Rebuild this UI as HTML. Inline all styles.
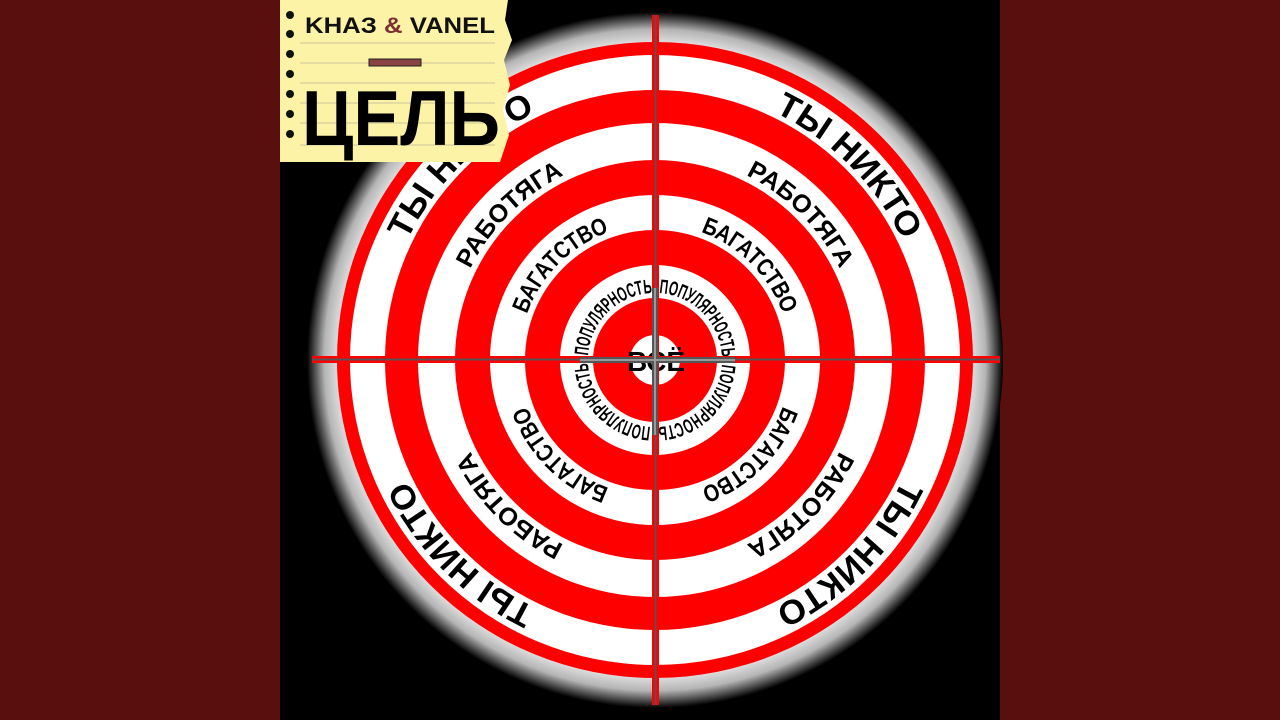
<!DOCTYPE html>
<html><head><meta charset="utf-8"><style>html,body{margin:0;padding:0;background:#5a0f0f;}svg{display:block}</style></head><body>
<svg width="1280" height="720" viewBox="0 0 1280 720" xmlns="http://www.w3.org/2000/svg">
<defs>
<radialGradient id="glow" cx="655" cy="360" r="348" gradientUnits="userSpaceOnUse">
<stop offset="0.88" stop-color="#ffffff"/><stop offset="0.95" stop-color="#b5b5b5"/><stop offset="1" stop-color="#000"/>
</radialGradient>
<path id="c1" d="M655,85 A275,275 0 1,1 654.99,85"/>
<path id="c2" d="M655,154 A206,206 0 1,1 654.99,154"/>
<path id="c3" d="M655,224 A136,136 0 1,1 654.99,224"/>
<path id="c4" d="M655,293 A67,67 0 1,1 654.99,293"/>
</defs>
<rect width="1280" height="720" fill="#5a0f0f"/>
<rect x="280" y="0" width="720" height="720" fill="#000"/>
<circle cx="655" cy="360" r="348" fill="url(#glow)"/>
<circle cx="655" cy="360" r="318" fill="#f00"/>
<circle cx="655" cy="360" r="305" fill="#fff"/>
<circle cx="655" cy="360" r="270" fill="#f00"/>
<circle cx="655" cy="360" r="237" fill="#fff"/>
<circle cx="655" cy="360" r="200" fill="#f00"/>
<circle cx="655" cy="360" r="165" fill="#fff"/>
<circle cx="655" cy="360" r="130" fill="#f00"/>
<circle cx="655" cy="360" r="95" fill="#fff"/>
<circle cx="655" cy="360" r="62" fill="#f00"/>
<circle cx="655" cy="360" r="25" fill="#fff"/>
<g font-family="Liberation Sans, sans-serif" font-weight="bold" fill="#000" text-anchor="middle">
<g font-size="34">
<text><textPath href="#c1" startOffset="12.5%" textLength="185" lengthAdjust="spacingAndGlyphs">ТЫ НИКТО</textPath></text>
<text><textPath href="#c1" startOffset="37.5%" textLength="185" lengthAdjust="spacingAndGlyphs">ТЫ НИКТО</textPath></text>
<text><textPath href="#c1" startOffset="62.5%" textLength="185" lengthAdjust="spacingAndGlyphs">ТЫ НИКТО</textPath></text>
<text><textPath href="#c1" startOffset="87.5%" textLength="185" lengthAdjust="spacingAndGlyphs">ТЫ НИКТО</textPath></text>
</g>
<g font-size="25">
<text><textPath href="#c2" startOffset="12.5%" textLength="135" lengthAdjust="spacingAndGlyphs">РАБОТЯГА</textPath></text>
<text><textPath href="#c2" startOffset="37.5%" textLength="135" lengthAdjust="spacingAndGlyphs">РАБОТЯГА</textPath></text>
<text><textPath href="#c2" startOffset="62.5%" textLength="135" lengthAdjust="spacingAndGlyphs">РАБОТЯГА</textPath></text>
<text><textPath href="#c2" startOffset="87.5%" textLength="135" lengthAdjust="spacingAndGlyphs">РАБОТЯГА</textPath></text>
</g>
<g font-size="24">
<text><textPath href="#c3" startOffset="12.5%" textLength="120" lengthAdjust="spacingAndGlyphs">БАГАТСТВО</textPath></text>
<text><textPath href="#c3" startOffset="37.5%" textLength="120" lengthAdjust="spacingAndGlyphs">БАГАТСТВО</textPath></text>
<text><textPath href="#c3" startOffset="62.5%" textLength="120" lengthAdjust="spacingAndGlyphs">БАГАТСТВО</textPath></text>
<text><textPath href="#c3" startOffset="87.5%" textLength="120" lengthAdjust="spacingAndGlyphs">БАГАТСТВО</textPath></text>
</g>
<g font-size="20" text-anchor="start">
<text><textPath href="#c4" startOffset="1%" textLength="98" lengthAdjust="spacingAndGlyphs">ПОПУЛЯРНОСТЬ</textPath></text>
<text><textPath href="#c4" startOffset="26%" textLength="98" lengthAdjust="spacingAndGlyphs">ПОПУЛЯРНОСТЬ</textPath></text>
<text><textPath href="#c4" startOffset="51%" textLength="98" lengthAdjust="spacingAndGlyphs">ПОПУЛЯРНОСТЬ</textPath></text>
<text><textPath href="#c4" startOffset="76%" textLength="98" lengthAdjust="spacingAndGlyphs">ПОПУЛЯРНОСТЬ</textPath></text>
</g>
<text x="656" y="371" font-size="28">ВСЁ</text>
</g>
<rect x="652" y="15" width="7" height="690" fill="#f00"/>
<line x1="655.5" y1="15" x2="655.5" y2="705" stroke="#555" stroke-width="2"/>
<rect x="312" y="356" width="688" height="7" fill="#f00"/>
<line x1="312" y1="359.5" x2="1000" y2="359.5" stroke="#555" stroke-width="2"/>
<g stroke="#555" stroke-width="6" fill="none">
<line x1="655" y1="288" x2="655" y2="435"/>
<line x1="580" y1="360" x2="735" y2="360"/>
</g>
<g stroke="#999" stroke-width="2" fill="none">
<line x1="655" y1="288" x2="655" y2="435"/>
<line x1="580" y1="360" x2="735" y2="360"/>
</g>
<path d="M280,0 H508 L505,20 L512,40 L504,60 L510,85 L503,110 L509,135 L500,162 H280 Z" fill="#fdf3a6"/>
<g stroke="#c9c39a" stroke-width="1">
<line x1="300" y1="43" x2="495" y2="43"/><line x1="300" y1="63" x2="495" y2="63"/>
<line x1="300" y1="83" x2="495" y2="83"/><line x1="300" y1="103" x2="495" y2="103"/>
<line x1="300" y1="123" x2="495" y2="123"/><line x1="300" y1="145" x2="495" y2="145"/>
</g>
<g fill="#111">
<circle cx="290" cy="15" r="4"/><circle cx="290" cy="34" r="4"/><circle cx="290" cy="54" r="4"/><circle cx="290" cy="74" r="4"/><circle cx="290" cy="94" r="4"/><circle cx="290" cy="114" r="4"/><circle cx="290" cy="134" r="4"/>
</g>
<text x="305" y="33" font-family="Liberation Sans, sans-serif" font-weight="bold" font-size="22" fill="#111" textLength="190" lengthAdjust="spacingAndGlyphs">KHAЗ <tspan fill="#7a3030">&amp;</tspan> VANEL</text>
<rect x="369" y="59" width="52" height="7" fill="#8a4444" stroke="#222" stroke-width="1"/>
<text x="302" y="145" font-family="Liberation Sans, sans-serif" font-weight="bold" font-size="78" fill="#000" textLength="198" lengthAdjust="spacingAndGlyphs">ЦЕЛЬ</text>
</svg>
</body></html>
